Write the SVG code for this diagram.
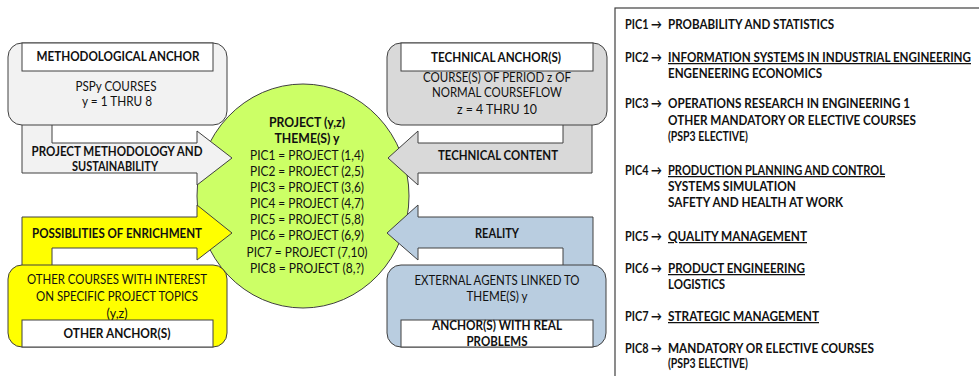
<svg xmlns="http://www.w3.org/2000/svg" width="979" height="376" viewBox="0 0 979 376">
<style>
text{font-family:Lato,"Noto Sans","DejaVu Sans",sans-serif;font-size:12.5px;fill:#111111}
.b{font-weight:bold}
.m{text-anchor:middle}
.u{text-decoration:underline}
.sh{stroke:#404040;stroke-width:1}
.lab{fill:#ffffff;stroke:#404040;stroke-width:1}
</style>
<rect width="979" height="376" fill="#ffffff"/>
<g id="center">
<ellipse cx="303" cy="196" rx="106" ry="112" fill="#ccff66" class="sh"/>
<text class="b m" x="307" y="127" textLength="76" lengthAdjust="spacingAndGlyphs">PROJECT (y,z)</text>
<text class="b m" x="307" y="143" textLength="65" lengthAdjust="spacingAndGlyphs">THEME(S) y</text>
<text class="m" x="307" y="160" textLength="114" lengthAdjust="spacingAndGlyphs">PIC1 = PROJECT (1,4)</text>
<text class="m" x="307" y="176" textLength="114" lengthAdjust="spacingAndGlyphs">PIC2 = PROJECT (2,5)</text>
<text class="m" x="307" y="192" textLength="114" lengthAdjust="spacingAndGlyphs">PIC3 = PROJECT (3,6)</text>
<text class="m" x="307" y="208" textLength="114" lengthAdjust="spacingAndGlyphs">PIC4 = PROJECT (4,7)</text>
<text class="m" x="307" y="224" textLength="114" lengthAdjust="spacingAndGlyphs">PIC5 = PROJECT (5,8)</text>
<text class="m" x="307" y="240" textLength="114" lengthAdjust="spacingAndGlyphs">PIC6 = PROJECT (6,9)</text>
<text class="m" x="307" y="257" textLength="121" lengthAdjust="spacingAndGlyphs">PIC7 = PROJECT (7,10)</text>
<text class="m" x="307" y="273" textLength="114" lengthAdjust="spacingAndGlyphs">PIC8 = PROJECT (8,?)</text>
</g>
<g id="connectors">
<g id="arrow-methodology">
<polygon class="sh" fill="#f2f2f2" points="22,110 22,173 197,173 197,185 232,158 197,131 197,143 52,143 52,110"/>
<text class="b m" x="117" y="156" textLength="171" lengthAdjust="spacingAndGlyphs">PROJECT METHODOLOGY AND</text>
<text class="b m" x="115" y="171" textLength="86" lengthAdjust="spacingAndGlyphs">SUSTAINABILITY</text>
</g>
<g id="arrow-enrichment">
<polygon class="sh" fill="#ffff00" points="22,280 22,217 197,217 197,205 232,233 197,260 197,248 52,248 52,280"/>
<text class="b m" x="117" y="238" textLength="170" lengthAdjust="spacingAndGlyphs">POSSIBLITIES OF ENRICHMENT</text>
</g>
<g id="arrow-technical">
<polygon class="sh" fill="#d9d9d9" points="592,110 592,173 418,173 418,185 388,158 418,131 418,143 563,143 563,110"/>
<text class="b m" x="498" y="160" textLength="120" lengthAdjust="spacingAndGlyphs">TECHNICAL CONTENT</text>
</g>
<g id="arrow-reality">
<polygon class="sh" fill="#b9cde0" points="593,280 593,217 418,217 418,205 387,233 418,260 418,248 563,248 563,280"/>
<text class="b m" x="497" y="238" textLength="44" lengthAdjust="spacingAndGlyphs">REALITY</text>
</g>
</g>
<g id="methodological-anchor">
<rect class="sh" fill="#f2f2f2" x="8" y="43" width="219" height="82" rx="14"/>
<rect class="lab" x="22" y="43" width="191" height="28"/>
<text class="b m" x="118" y="61" textLength="163" lengthAdjust="spacingAndGlyphs">METHODOLOGICAL ANCHOR</text>
<text class="m" x="116" y="91" textLength="81" lengthAdjust="spacingAndGlyphs">PSPy COURSES</text>
<text class="m" x="117" y="106" textLength="70" lengthAdjust="spacingAndGlyphs">y = 1 THRU 8</text>
</g>
<g id="technical-anchor">
<rect class="sh" fill="#d9d9d9" x="387" y="43" width="220" height="82" rx="14"/>
<rect class="lab" x="401" y="43" width="192" height="28"/>
<text class="b m" x="496" y="62" textLength="130" lengthAdjust="spacingAndGlyphs">TECHNICAL ANCHOR(S)</text>
<text class="m" x="497" y="82" textLength="148" lengthAdjust="spacingAndGlyphs">COURSE(S) OF PERIOD z OF</text>
<text class="m" x="497" y="97" textLength="130" lengthAdjust="spacingAndGlyphs">NORMAL COURSEFLOW</text>
<text class="m" x="497" y="114" textLength="80" lengthAdjust="spacingAndGlyphs">z = 4 THRU 10</text>
</g>
<g id="other-anchor">
<rect class="sh" fill="#ffff00" x="8" y="265" width="219" height="82" rx="14"/>
<rect class="lab" x="22" y="320" width="191" height="27"/>
<text class="m" x="117" y="284" textLength="180" lengthAdjust="spacingAndGlyphs">OTHER COURSES WITH INTEREST</text>
<text class="m" x="117" y="301" textLength="162" lengthAdjust="spacingAndGlyphs">ON SPECIFIC PROJECT TOPICS</text>
<text class="m" x="117" y="318" textLength="21" lengthAdjust="spacingAndGlyphs">(y,z)</text>
<text class="b m" x="117" y="338" textLength="107" lengthAdjust="spacingAndGlyphs">OTHER ANCHOR(S)</text>
</g>
<g id="real-anchor">
<rect class="sh" fill="#b9cde0" x="387" y="265" width="219" height="82" rx="14"/>
<rect class="lab" x="401" y="320" width="192" height="27"/>
<text class="m" x="497" y="285" textLength="165" lengthAdjust="spacingAndGlyphs">EXTERNAL AGENTS LINKED TO</text>
<text class="m" x="497" y="301" textLength="61" lengthAdjust="spacingAndGlyphs">THEME(S) y</text>
<text class="b m" x="497" y="330" textLength="130" lengthAdjust="spacingAndGlyphs">ANCHOR(S) WITH REAL</text>
<text class="b m" x="497" y="346" textLength="61" lengthAdjust="spacingAndGlyphs">PROBLEMS</text>
</g>
<g id="legend">
<rect x="615" y="8" width="380" height="380" fill="#ffffff" stroke="#404040" stroke-width="1.2"/>
<text class="b" x="625" y="29" textLength="37" lengthAdjust="spacingAndGlyphs">PIC1 →</text>
<text class="b" x="668" y="29" textLength="166" lengthAdjust="spacingAndGlyphs">PROBABILITY AND STATISTICS</text>
<text class="b" x="625" y="62" textLength="37" lengthAdjust="spacingAndGlyphs">PIC2 →</text>
<text class="b u" x="668" y="62" textLength="303" lengthAdjust="spacingAndGlyphs">INFORMATION SYSTEMS IN INDUSTRIAL ENGINEERING</text>
<text class="b" x="668" y="78" textLength="154" lengthAdjust="spacingAndGlyphs">ENGENEERING ECONOMICS</text>
<text class="b" x="625" y="108" textLength="37" lengthAdjust="spacingAndGlyphs">PIC3 →</text>
<text class="b" x="668" y="108" textLength="242" lengthAdjust="spacingAndGlyphs">OPERATIONS RESEARCH IN ENGINEERING 1</text>
<text class="b" x="668" y="125" textLength="248" lengthAdjust="spacingAndGlyphs">OTHER MANDATORY OR ELECTIVE COURSES</text>
<text class="b" x="668" y="141" textLength="80" lengthAdjust="spacingAndGlyphs">(PSP3 ELECTIVE)</text>
<text class="b" x="625" y="175" textLength="37" lengthAdjust="spacingAndGlyphs">PIC4 →</text>
<text class="b u" x="668" y="175" textLength="217" lengthAdjust="spacingAndGlyphs">PRODUCTION PLANNING AND CONTROL</text>
<text class="b" x="668" y="191" textLength="128" lengthAdjust="spacingAndGlyphs">SYSTEMS SIMULATION</text>
<text class="b" x="668" y="207" textLength="175" lengthAdjust="spacingAndGlyphs">SAFETY AND HEALTH AT WORK</text>
<text class="b" x="625" y="241" textLength="37" lengthAdjust="spacingAndGlyphs">PIC5 →</text>
<text class="b u" x="668" y="241" textLength="139" lengthAdjust="spacingAndGlyphs">QUALITY MANAGEMENT</text>
<text class="b" x="625" y="273" textLength="37" lengthAdjust="spacingAndGlyphs">PIC6 →</text>
<text class="b u" x="668" y="273" textLength="137" lengthAdjust="spacingAndGlyphs">PRODUCT ENGINEERING</text>
<text class="b" x="668" y="289" textLength="57" lengthAdjust="spacingAndGlyphs">LOGISTICS</text>
<text class="b" x="625" y="321" textLength="37" lengthAdjust="spacingAndGlyphs">PIC7 →</text>
<text class="b u" x="668" y="321" textLength="151" lengthAdjust="spacingAndGlyphs">STRATEGIC MANAGEMENT</text>
<text class="b" x="625" y="353" textLength="37" lengthAdjust="spacingAndGlyphs">PIC8 →</text>
<text class="b" x="668" y="353" textLength="206" lengthAdjust="spacingAndGlyphs">MANDATORY OR ELECTIVE COURSES</text>
<text class="b" x="668" y="368" textLength="80" lengthAdjust="spacingAndGlyphs">(PSP3 ELECTIVE)</text>
</g>
</svg>
